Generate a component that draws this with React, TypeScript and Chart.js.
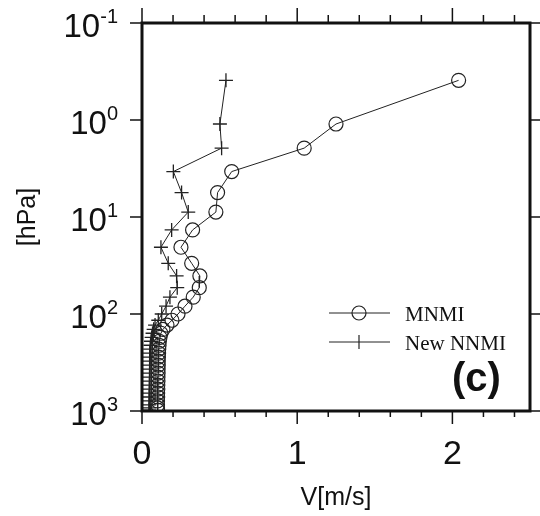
import React, { useEffect, useRef } from 'react';
import { Chart, registerables } from 'chart.js';
Chart.register(...registerables);

const pressureLevels = [0.39, 1.1, 1.95, 3.4, 5.6, 8.9, 13.6, 20.5, 30, 40.5, 53.5, 67, 83, 100, 116, 130, 144, 158, 174, 191, 210, 230, 253, 278, 306, 336, 370, 406, 447, 491, 540, 594, 653, 717, 788, 866, 930, 980];
const mnmiV = [2.04, 1.25, 1.045, 0.578, 0.487, 0.476, 0.326, 0.251, 0.32, 0.373, 0.369, 0.33, 0.277, 0.232, 0.193, 0.161, 0.135, 0.122, 0.116, 0.112, 0.11, 0.108, 0.107, 0.106, 0.105, 0.105, 0.104, 0.104, 0.103, 0.103, 0.102, 0.102, 0.101, 0.101, 0.1, 0.1, 0.1, 0.1];
const nnmiV = [0.541, 0.502, 0.513, 0.202, 0.255, 0.298, 0.191, 0.122, 0.169, 0.223, 0.227, 0.18, 0.155, 0.127, 0.105, 0.084, 0.075, 0.068, 0.062, 0.058, 0.055, 0.053, 0.052, 0.051, 0.05, 0.05, 0.05, 0.049, 0.049, 0.049, 0.048, 0.048, 0.048, 0.047, 0.047, 0.047, 0.047, 0.046];
const seriesNames = ['MNMI', 'New NNMI'];
const xTickLabels = [0, 1, 2];
const xMinorTicks = [0, 0.2, 0.4, 0.6, 0.8, 1, 1.2, 1.4, 1.6, 1.8, 2, 2.2, 2.4];
const yDecades = [0.1, 1, 10, 100, 1000];
const yExponents = ['-1', '0', '1', '2', '3'];
const panelLabel = '(c)';

const SANS = '"Liberation Sans", Arial, sans-serif';
const SERIF = '"Liberation Serif", "Times New Roman", serif';

const decorPlugin = {
  id: 'decor',
  afterDatasetsDraw(chart: any) {
    const { ctx, chartArea: a, scales } = chart;
    const xs = scales.x;
    const ys = scales.y;
    const line = (x1: number, y1: number, x2: number, y2: number) => {
      ctx.beginPath();
      ctx.moveTo(x1, y1);
      ctx.lineTo(x2, y2);
      ctx.stroke();
    };
    ctx.save();
    ctx.strokeStyle = '#111';
    ctx.fillStyle = '#111';
    ctx.lineWidth = 1.5;
    xMinorTicks.forEach((v) => {
      const px = xs.getPixelForValue(v);
      const major = Math.abs(v - Math.round(v)) < 1e-6;
      line(px, a.top, px, a.top - (major ? 15 : 8));
      line(px, a.bottom, px, a.bottom + (major ? 13 : 6));
    });
    yDecades.forEach((p) => {
      const py = ys.getPixelForValue(p);
      line(a.left - 12, py, a.left, py);
      line(a.right, py, a.right + 10, py);
    });
    ctx.lineWidth = 3;
    ctx.strokeRect(a.left, a.top, a.right - a.left, a.bottom - a.top);

    // y tick labels with superscript exponents
    const rightEdge = a.left - 24;
    yDecades.forEach((p, i) => {
      const py = ys.getPixelForValue(p);
      ctx.font = `20px ${SANS}`;
      const we = ctx.measureText(yExponents[i]).width;
      ctx.font = `33px ${SANS}`;
      const wb = ctx.measureText('10').width;
      ctx.textAlign = 'left';
      ctx.textBaseline = 'alphabetic';
      ctx.fillText('10', rightEdge - we - wb, py + 14);
      ctx.font = `20px ${SANS}`;
      ctx.fillText(yExponents[i], rightEdge - we, py + 0);
    });

    // legend
    const lx1 = 329, lx2 = 390, lmx = 359;
    const ly = [313, 342];
    ctx.lineWidth = 1;
    ctx.strokeStyle = '#222';
    ly.forEach((y) => line(lx1, y, lx2, y));
    ctx.lineWidth = 1.2;
    ctx.beginPath();
    ctx.arc(lmx, ly[0], 7, 0, Math.PI * 2);
    ctx.stroke();
    line(lmx, ly[1] - 7, lmx, ly[1] + 7);
    ctx.font = `21px ${SERIF}`;
    ctx.textAlign = 'left';
    ctx.textBaseline = 'alphabetic';
    ctx.fillText(seriesNames[0], 405, ly[0] + 8);
    ctx.fillText(seriesNames[1], 405, ly[1] + 8);

    ctx.font = `bold 40px ${SANS}`;
    ctx.fillText(panelLabel, 452, 391);
    ctx.restore();
  },
};

export default function App() {
  const ref = useRef<HTMLCanvasElement | null>(null);
  useEffect(() => {
    document.body.style.margin = '0';
    const canvas = ref.current;
    if (!canvas) return;
    const chart = new Chart(canvas, {
      type: 'scatter',
      data: {
        datasets: [
          {
            label: seriesNames[0],
            data: pressureLevels.map((p, i) => ({ x: mnmiV[i], y: p })),
            showLine: true,
            borderColor: '#222',
            borderWidth: 1,
            pointStyle: 'circle',
            pointRadius: 7,
            pointBorderWidth: 1.2,
            pointBorderColor: '#222',
            pointBackgroundColor: 'rgba(0,0,0,0)',
          },
          {
            label: seriesNames[1],
            data: pressureLevels.map((p, i) => ({ x: nnmiV[i], y: p })),
            showLine: true,
            borderColor: '#222',
            borderWidth: 1,
            pointStyle: 'cross',
            pointRadius: 7,
            pointBorderWidth: 1.3,
            pointBorderColor: '#222',
            pointBackgroundColor: 'rgba(0,0,0,0)',
          },
        ],
      },
      options: {
        animation: false,
        responsive: true,
        maintainAspectRatio: false,
        layout: { padding: { top: 23, right: 10, left: 0, bottom: 0 } },
        plugins: { legend: { display: false }, tooltip: { enabled: false } },
        scales: {
          x: {
            type: 'linear',
            min: 0,
            max: 2.5,
            afterBuildTicks: (s: any) => {
              s.ticks = xTickLabels.map((v) => ({ value: v }));
            },
            afterFit: (s: any) => {
              s.height = 105;
            },
            grid: { display: false, drawTicks: false },
            border: { display: false },
            ticks: {
              padding: 23,
              color: '#111',
              font: { family: SANS, size: 34 },
              maxRotation: 0,
              callback: (v: any) => String(v),
            },
            title: {
              display: true,
              text: 'V[m/s]',
              color: '#111',
              font: { family: SANS, size: 25 },
              padding: { top: 0, bottom: 3 },
            },
          },
          y: {
            type: 'logarithmic',
            reverse: true,
            min: 0.1,
            max: 1000,
            afterBuildTicks: (s: any) => {
              s.ticks = yDecades.map((v) => ({ value: v }));
            },
            afterFit: (s: any) => {
              s.width = 142;
            },
            grid: { display: false, drawTicks: false },
            border: { display: false },
            ticks: { display: false },
            title: {
              display: true,
              text: '[hPa]',
              color: '#111',
              font: { family: SANS, size: 25 },
              padding: { top: 13, bottom: 0 },
            },
          },
        },
      },
      plugins: [decorPlugin],
    } as any);
    return () => chart.destroy();
  }, []);
  return (
    <div style={{ width: 540, height: 516, position: 'relative', background: '#fff' }}>
      <canvas ref={ref} />
    </div>
  );
}
